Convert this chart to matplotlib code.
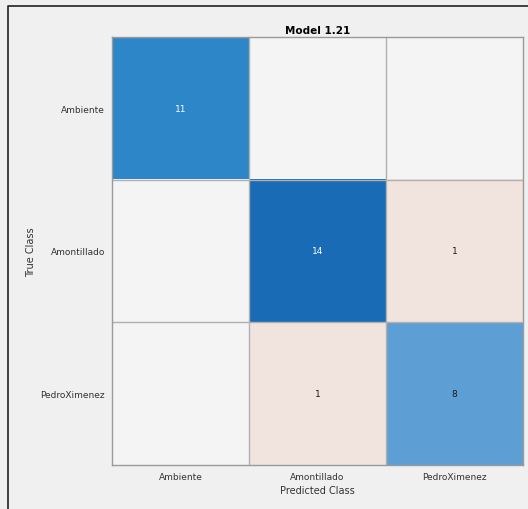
import matplotlib.pyplot as plt
import numpy as np
from matplotlib.colors import LinearSegmentedColormap
from matplotlib.lines import Line2D

classes = ['Ambiente', 'Amontillado', 'PedroXimenez']
counts = np.array([[11, 0, 0],
                   [0, 14, 1],
                   [0, 1, 8]])

bg = '#f0f0f0'
fig = plt.figure(figsize=(5.28, 5.10), dpi=100, facecolor=bg)
# dark frame on the left and top edges of the screenshot
fig.lines.append(Line2D([0.015, 0.015, 1.0], [0.0, 0.986, 0.986], transform=fig.transFigure,
                        color='#222222', linewidth=1.2))
ax = fig.add_axes([0.212, 0.086, 0.779, 0.840])

n = len(classes)
is_diag = np.eye(n, dtype=bool)
diag = np.where(is_diag & (counts > 0), counts, np.nan)
off = np.where(~is_diag & (counts > 0), counts, np.nan)
zero = np.where(counts == 0, 0, np.nan)
ext = (-0.5, n - 0.5, n - 0.5, -0.5)

# diagonal: blue scale, off-diagonal: light red scale (normalised to its own max)
blues = LinearSegmentedColormap.from_list(
    'cc_blue', [(0, '#f3f3f3'), (0.57, '#5ea0d6'), (0.79, '#2c86c8'), (1, '#1a6bb5')])
reds = LinearSegmentedColormap.from_list('cc_red', ['#f4f4f4', '#f1e4de'])
ax.imshow(diag, cmap=blues, vmin=0, vmax=counts.max(), aspect='auto', extent=ext)
ax.imshow(off, cmap=reds, vmin=0, vmax=np.nanmax(off), aspect='auto', extent=ext)
ax.imshow(zero, cmap=LinearSegmentedColormap.from_list('z', ['#f4f4f4', '#f4f4f4']),
          vmin=0, vmax=1, aspect='auto', extent=ext)

for i in range(n):
    for j in range(n):
        v = counts[i, j]
        if v == 0:
            continue
        col = 'white' if (i == j and v >= 10) else '#1a1a1a'
        ax.text(j, i, str(v), ha='center', va='center', fontsize=6.5, color=col)

for k in range(1, n):
    ax.axhline(k - 0.5, color='#b0b0b0', linewidth=1)
    ax.axvline(k - 0.5, color='#b0b0b0', linewidth=1)
for s in ax.spines.values():
    s.set_color('#9a9a9a')
    s.set_linewidth(1)

ax.set_xlim(-0.5, n - 0.5)
ax.set_ylim(n - 0.5, -0.5)
ax.set_xticks(range(n))
ax.set_yticks(range(n))
ax.set_xticklabels(classes, fontsize=6.5, color='#333333')
ax.set_yticklabels(classes, fontsize=6.5, color='#333333')
ax.tick_params(length=0, pad=5)
ax.set_xlabel('Predicted Class', fontsize=7, color='#333333', labelpad=3)
ax.set_ylabel('True Class', fontsize=7, color='#333333')
ax.yaxis.set_label_coords(-0.185, 0.5)
ax.set_title('Model 1.21', fontsize=7.5, fontweight='bold', pad=3)

fig.savefig('out.png', dpi=100, facecolor=bg)
